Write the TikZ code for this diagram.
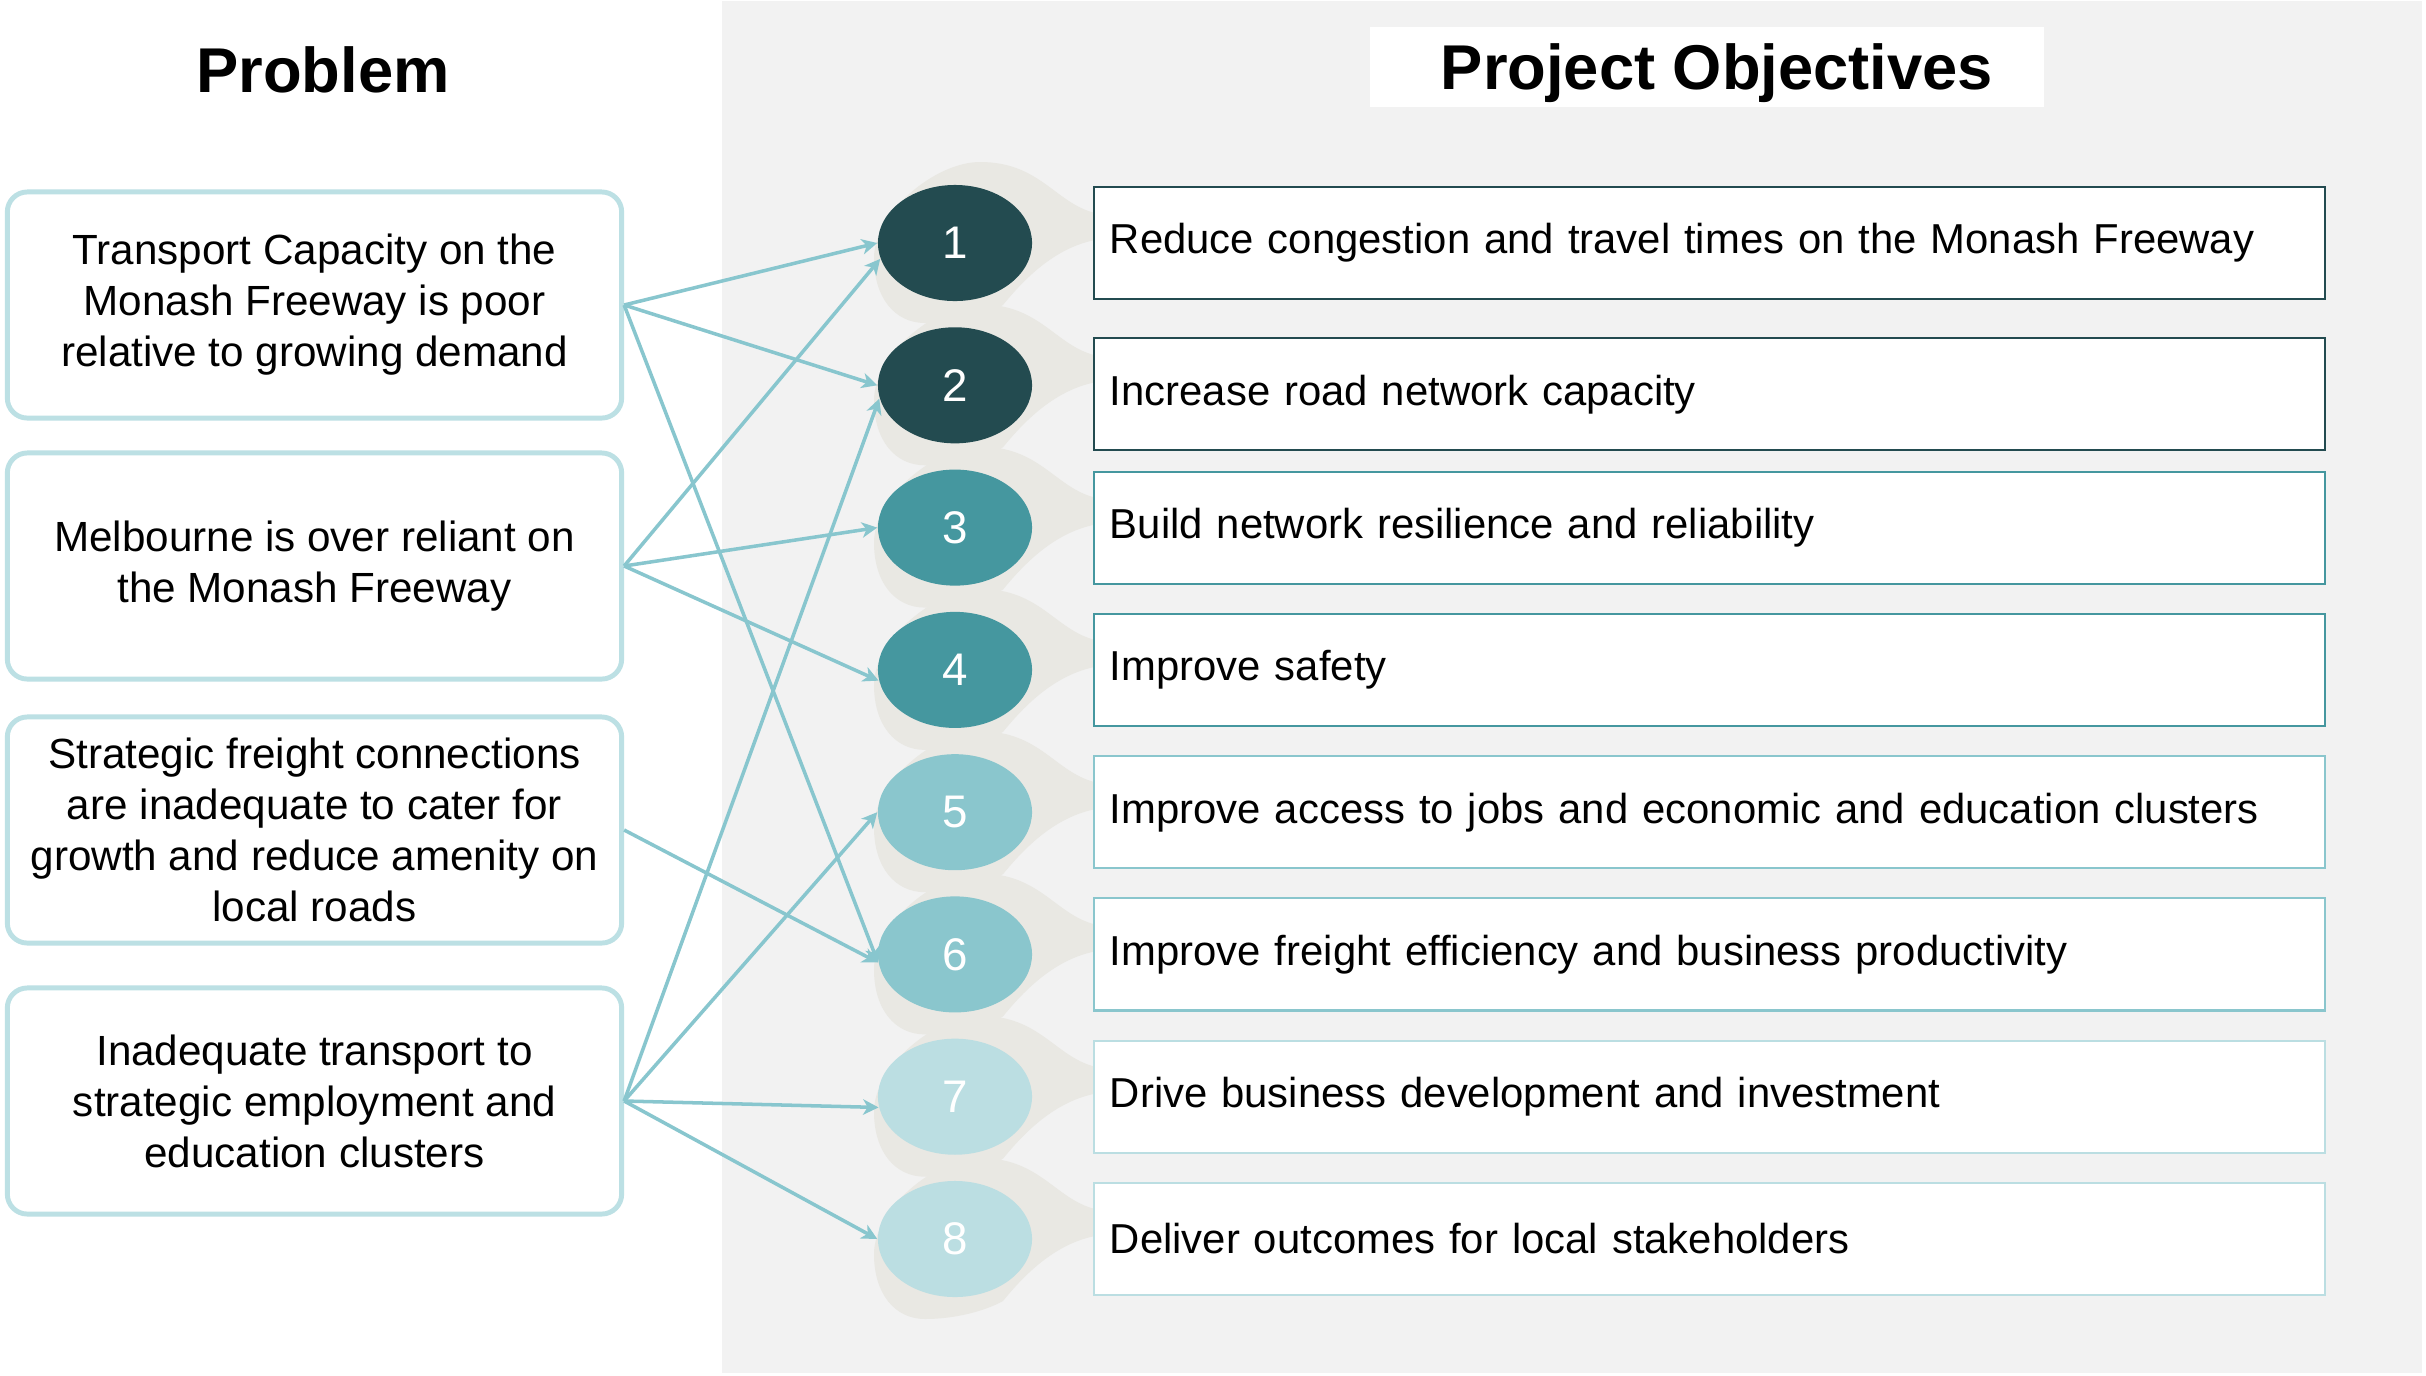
\documentclass[tikz,border=0pt]{standalone}
\usepackage{fontspec}
\setmainfont{Liberation Sans}
\usepackage{tikz}
\usetikzlibrary{arrows.meta,positioning,shapes.geometric}
\definecolor{ObjDark}{HTML}{234B50}
\definecolor{ObjMid}{HTML}{45979F}
\definecolor{ObjLight}{HTML}{8AC6CD}
\definecolor{ObjPale}{HTML}{BBDEE2}
\definecolor{ProbRule}{HTML}{BCE0E4}
\definecolor{LinkTeal}{HTML}{88C6CE}
\definecolor{PanelGray}{HTML}{F2F2F2}
\definecolor{BlobGray}{HTML}{E9E8E3}

\begin{document}
\begin{tikzpicture}[x=0.01cm,y=-0.01cm,>={Stealth[length=4.4pt,width=4.4pt,inset=1.3pt]},
    heading/.style={font=\bfseries\fontsize{18}{21}\selectfont},
    probbox/.style={draw=ProbRule,fill=white,line width=1.4pt,rounded corners=0.2cm,
      minimum width=6.14cm,minimum height=2.26cm,align=center,font=\fontsize{12}{14.5}\selectfont},
    objbox/.style={fill=white,line width=0.6pt,minimum height=1.12cm,text width=11.98cm,
      inner xsep=0.16cm,align=left,font=\fontsize{11.9}{14.5}\selectfont},
    numnode/.style={ellipse,minimum width=1.54cm,minimum height=1.16cm,text=white,
      font=\fontsize{13}{15}\selectfont},
    link/.style={->,LinkTeal,line width=1pt}]
  \useasboundingbox[fill=white] (0,0) rectangle (2426,1375);
  \fill[PanelGray] (722,1) rectangle (2422,1373);

  % column headings
  \node[heading] (probhead) at (323,70) {Problem};
  \node[heading,fill=white,text depth=0pt,minimum width=6.73cm,minimum height=0.79cm] (objhead) at (1707,67) {\hspace*{0.2cm}Project Objectives};

  % teardrop shading behind each number
  \foreach \yy in {243,385.3,527.6,669.9,812.2,954.4,1096.7,1239}
    \fill[BlobGray,shift={(955,\yy)}] (140,-30) .. controls (100,-40) and (85,-81) .. (25,-81)
      .. controls (-20,-81) and (-81,-30) .. (-81,15)
      .. controls (-81,55) and (-60,80) .. (-30,80)
      .. controls (0,80) and (30,72) .. (48,62)
      .. controls (70,35) and (100,5) .. (140,-3) -- cycle;

  % numbered objectives
  \foreach \i/\yy/\col in {1/243/ObjDark,2/385.3/ObjDark,3/527.6/ObjMid,4/669.9/ObjMid,
      5/812.2/ObjLight,6/954.4/ObjLight,7/1096.7/ObjPale,8/1239/ObjPale}
    \node[numnode,fill=\col] (n\i) at (955,\yy) {\i};

  \node[objbox,draw=ObjDark,right=0.6cm of n1] (o1) {Reduce congestion and travel times on the Monash Freeway};
  \node[objbox,draw=ObjDark,right=0.6cm of n2,yshift=-0.09cm] (o2) {Increase road network capacity};
  \node[objbox,draw=ObjMid,right=0.6cm of n3] (o3) {Build network resilience and reliability};
  \node[objbox,draw=ObjMid,right=0.6cm of n4] (o4) {Improve safety};
  \node[objbox,draw=ObjLight,right=0.6cm of n5] (o5) {Improve access to jobs and economic and education clusters};
  \node[objbox,draw=ObjLight,right=0.6cm of n6] (o6) {Improve freight efficiency and business productivity};
  \node[objbox,draw=ObjPale,right=0.6cm of n7] (o7) {Drive business development and investment};
  \node[objbox,draw=ObjPale,right=0.6cm of n8] (o8) {Deliver outcomes for local stakeholders};

  % problem statements
  \node[probbox] (p1) at (314.5,305) {Transport Capacity on the\\Monash Freeway is poor\\relative to growing demand};
  \node[probbox] (p2) at (314.5,566) {Melbourne is over reliant on\\the Monash Freeway};
  \node[probbox] (p3) at (314.5,830) {Strategic freight connections\\are inadequate to cater for\\growth and reduce amenity on\\local roads};
  \node[probbox] (p4) at (314.5,1101) {Inadequate transport to\\strategic employment and\\education clusters};

  % links from problems to objectives
  \draw[link] (p1.east) -- (n1.west);
  \draw[link] (p1.east) -- (n2.west);
  \draw[link] (p1.east) -- (n6.186);
  \draw[link] (p2.east) -- (n1.192);
  \draw[link] (p2.east) -- (n3.west);
  \draw[link] (p2.east) -- (n4.188);
  \draw[link] (p3.east) -- (n6.186);
  \draw[link] (p4.east) -- (n2.190);
  \draw[link] (p4.east) -- (n5.west);
  \draw[link] (p4.east) -- (n7.188);
  \draw[link] (p4.east) -- (n8.west);
\end{tikzpicture}
\end{document}
